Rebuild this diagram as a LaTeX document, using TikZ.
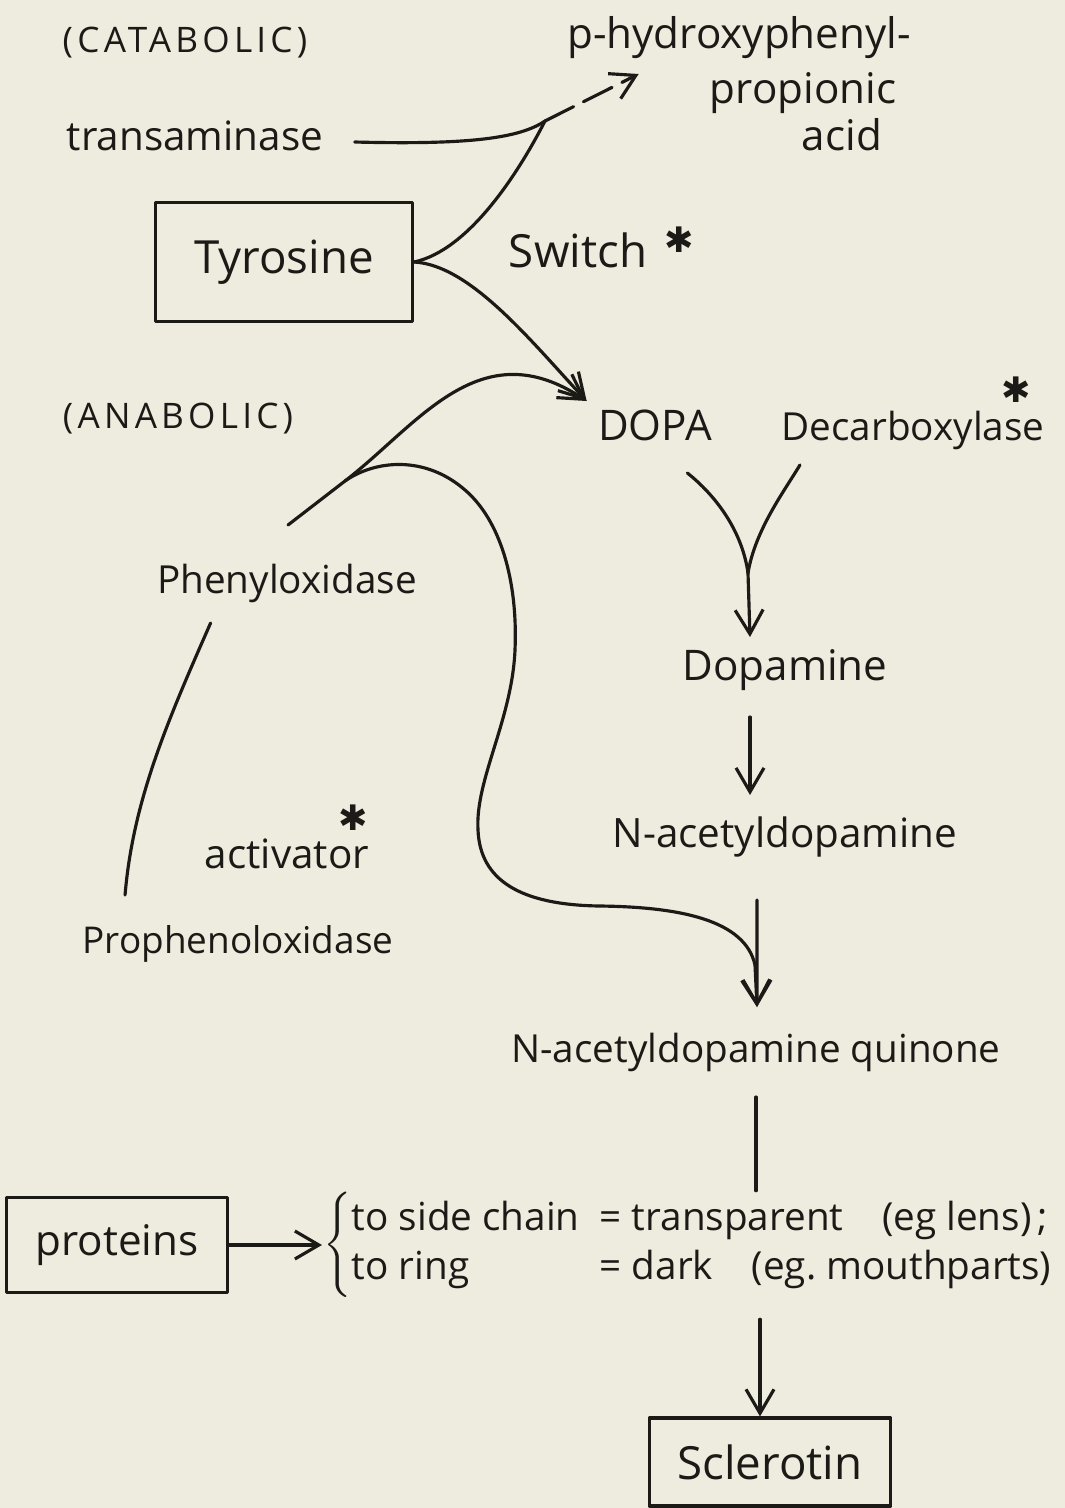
\documentclass[tikz,border=0pt]{standalone}
\usepackage{fontspec}
\setmainfont{Open Sans}
\newfontfamily\symfont{DejaVu Sans}
\usepackage{tikz}
\usetikzlibrary{arrows.meta,positioning,calc}
\definecolor{paper}{RGB}{238,236,222}
\definecolor{ink}{RGB}{28,26,22}

\begin{document}
\begin{tikzpicture}[
  x=0.1mm, y=-0.1mm,
  color=ink, line width=0.9pt, line cap=round, line join=round,
  txt/.style={font=\fontsize{11.5}{14}\selectfont, inner sep=1mm, anchor=base},
  big/.style={txt, font=\fontsize{13}{15}\selectfont},
  caps/.style={txt, font=\fontsize{10}{12}\selectfont\addfontfeatures{LetterSpace=12}},
  box/.style={draw, line width=0.9pt, inner sep=0pt, anchor=center},
  aster/.style={font=\symfont\fontsize{10}{10}\selectfont, inner sep=0pt},
  arr/.style={-{Straight Barb[length=2.4mm, width=2.8mm]}},
]
\fill[paper] (0,0) rectangle (1065,1508);

% Catabolic side
\node[caps] (catab) at (185,52) {(CATABOLIC)};
\node[txt, font=\fontsize{12}{14}\selectfont] (hpp1) at (739,48) {p-hydroxyphenyl-};
\node[txt, font=\fontsize{12}{14}\selectfont] (hpp2) at (803,103) {propionic};
\node[txt, font=\fontsize{12}{14}\selectfont] (hpp3) at (842,150) {acid};
\node[txt] (transam) at (195,150) {transaminase};
\node[box, big, anchor=center, minimum width=25.7mm, minimum height=11.9mm] (tyr) at (284,262) {Tyrosine};
\node[big] (switch) at (578,267) {Switch};
\node[aster] (swstar) at (679,240) {✱};

\coordinate (tmerge) at (545,121);
\coordinate (hpptip) at ([shift={(8.3mm,-2.6mm)}]hpp1.base west);
\draw ([shift={(2mm,0.8mm)}]transam.base east) .. controls (470,145) and (520,138) .. (tmerge);
\draw (tyr.east) .. controls (470,250) and (520,170) .. (tmerge);
\draw[arr, dash pattern=on 3.2mm off 1.1mm] (tmerge) -- (hpptip);

% Anabolic side
\node[caps] (anab) at (178,428) {(ANABOLIC)};
\node[txt, font=\fontsize{12}{14}\selectfont] (dopa) at (655,440) {DOPA};
\node[txt, font=\fontsize{11}{13}\selectfont] (decarb) at (913,440) {Decarboxylase};
\node[aster] (decstar) at (1016,390) {✱};
\node[txt, font=\fontsize{11}{13}\selectfont] (phenox) at (287,593) {Phenyloxidase};
\node[txt, inner sep=0.5mm] (activ) at (287,868) {activator};
\node[aster] (actstar) at (353,818) {✱};
\node[txt, font=\fontsize{10.5}{13}\selectfont] (prophen) at (238,953) {Prophenoloxidase};

\coordinate (dopatip) at ([yshift=3.9mm]dopa.base west);
\coordinate (fork) at (345,481);
\draw[arr] (tyr.east) .. controls (470,265) and (530,340) .. (dopatip);
\draw[arr] ([shift={(0.1mm,6.8mm)}]phenox.base) -- (fork)
  .. controls (419,424) and (480,330) .. (dopatip);
\draw ([shift={(6.5mm,-3mm)}]phenox.base west) .. controls (168,720) and (133,800)
  .. ([shift={(5.4mm,5.8mm)}]prophen.base west);

% Main chain
\node[txt, font=\fontsize{12}{14}\selectfont] (dopamine) at (785,680) {Dopamine};
\node[txt] (nadopa) at (785,847) {N-acetyldopamine};
\node[txt, font=\fontsize{11}{13}\selectfont] (quinone) at (756,1062) {N-acetyldopamine quinone};

\coordinate (ymerge) at (748,573);
\coordinate (qtip) at ([shift={(0.1mm,5.5mm)}]quinone.base);
\draw ([shift={(-3.6mm,-3.3mm)}]dopa.base east) .. controls (715,495) and (742,530) .. (ymerge);
\draw ([shift={(3mm,-2.5mm)}]decarb.base west) .. controls (785,490) and (755,530) .. (ymerge);
\draw[arr] (ymerge) -- ([shift={(-3.5mm,4.3mm)}]dopamine.base);
\draw[arr] ([shift={(-3.5mm,-3.7mm)}]dopamine.base) -- ([shift={(-3.5mm,5.2mm)}]nadopa.base);
\draw[arr] ([shift={(-2.8mm,-5.3mm)}]nadopa.base) -- (qtip);
\draw[arr] (fork) .. controls (375,460) and (425,455) .. (465,490)
  .. controls (500,520) and (518,580) .. (515,650)
  .. controls (512,720) and (475,780) .. (478,830)
  .. controls (480,880) and (520,905) .. (600,906)
  .. controls (680,907) and (745,920) .. (755,965) -- (qtip);

% Cross-linking
\node[box, txt, anchor=center, font=\fontsize{12}{14}\selectfont, minimum width=22.1mm, minimum height=9.5mm] (proteins) at (117,1245) {proteins};
\node[txt, font=\fontsize{11}{14}\selectfont, inner sep=0pt, anchor=west] (links) at (322,1245)
  {$\left\{\begin{tabular}{@{}l@{\hspace{2mm}}l@{}}
    to side chain & = transparent\quad(eg lens)\,; \\
    to ring & = dark\quad(eg.\ mouthparts)
  \end{tabular}\right.$};
\node[box, big, anchor=center, minimum width=24.1mm, minimum height=8.8mm] (scler) at (770,1462) {Sclerotin};

\draw ([yshift=-3.5mm]quinone.base) -- (quinone.base |- links.north);
\draw[arr] (proteins.east) -- (links.west);
\draw[arr] ($(scler.north |- links.south)+(-1mm,-2mm)$) -- ([xshift=-1mm]scler.north);
\end{tikzpicture}
\end{document}
